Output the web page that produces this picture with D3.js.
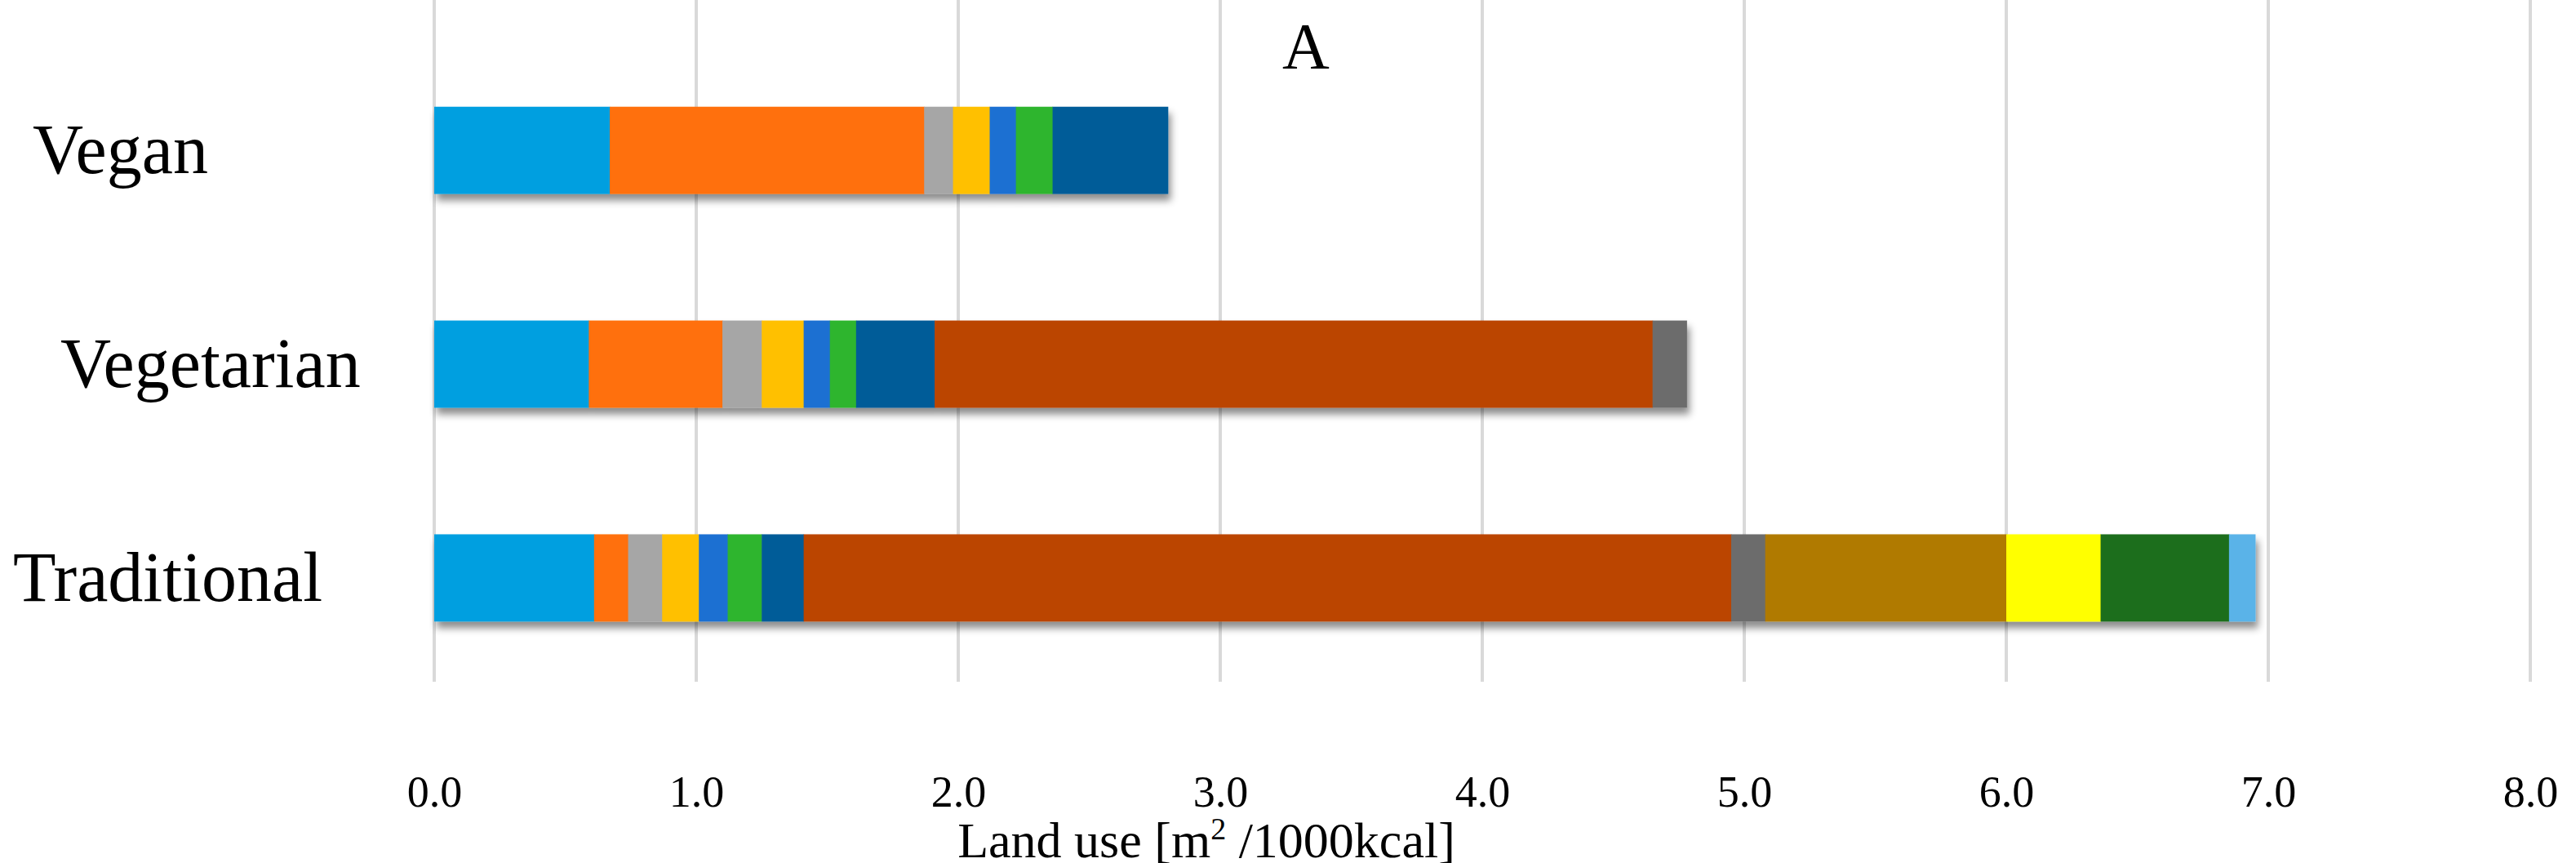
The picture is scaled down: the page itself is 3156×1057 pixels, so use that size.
<!DOCTYPE html>
<html><head><meta charset="utf-8">
<script src="https://cdn.jsdelivr.net/npm/d3@7"></script>
<style>body{margin:0;background:#fff}svg{display:block}</style>
</head><body>
<svg id="c" width="3156" height="1057"></svg>
<script>
const categories = ["Vegan", "Vegetarian", "Traditional"];
const seriesColors = ["#029fe0","#ff6f0a","#a6a6a6","#ffc000","#1f6fd2","#2fb52f","#005b98","#bb4402","#6c6c6c","#b07a02","#ffff00","#1b6e1b","#5ab3e8"];
const veganValues = [0.67, 1.20, 0.11, 0.14, 0.10, 0.14, 0.44];
const vegetarianValues = [0.59, 0.51, 0.15, 0.16, 0.10, 0.10, 0.30, 2.74, 0.13];
const traditionalValues = [0.61, 0.13, 0.13, 0.14, 0.11, 0.13, 0.16, 3.54, 0.13, 0.92, 0.36, 0.49, 0.10];
const tickValues = [0,1,2,3,4,5,6,7,8];
const allValues = [veganValues, vegetarianValues, traditionalValues];

const svg = d3.select("#c");
const x = d3.scaleLinear().domain([0,8]).range([532,3100]);
const y = d3.scaleBand().domain(categories).range([26,866]).paddingInner(0.592).paddingOuter(0.4);

const defs = svg.append("defs");
const f = defs.append("filter").attr("id","sh").attr("x","-5%").attr("y","-20%").attr("width","110%").attr("height","160%");
f.append("feDropShadow").attr("dx",3).attr("dy",8).attr("stdDeviation",5).attr("flood-color","#000").attr("flood-opacity",0.45);

svg.append("g").selectAll("line").data(tickValues).join("line")
  .attr("x1",d=>x(d)).attr("x2",d=>x(d)).attr("y1",0).attr("y2",835)
  .attr("stroke","#d9d9d9").attr("stroke-width",4);

categories.forEach((c,i)=>{
  let acc=0;
  const segs = allValues[i].map((v,j)=>{const s={x0:acc,x1:acc+v,color:seriesColors[j]};acc+=v;return s;});
  const g = svg.append("g").attr("filter","url(#sh)");
  g.selectAll("rect").data(segs).join("rect")
    .attr("x",d=>x(d.x0)).attr("width",d=>x(d.x1)-x(d.x0)+0.5)
    .attr("y",y(c)).attr("height",y.bandwidth()).attr("fill",d=>d.color);
});

const labelX = {"Vegan":40,"Vegetarian":74,"Traditional":16};
svg.append("g").selectAll("text").data(categories).join("text")
  .attr("x",d=>labelX[d]).attr("y",d=>y(d)+y.bandwidth()/2+28)
  .attr("font-family","Liberation Serif").attr("font-size",86).attr("fill","#000")
  .text(d=>d);

const ax = svg.append("g").attr("transform","translate(0,985)")
  .call(d3.axisBottom(x).tickValues(tickValues).tickFormat(d3.format(".1f")).tickSize(0));
ax.select(".domain").remove();
ax.selectAll("text").attr("font-family","Liberation Serif").attr("font-size",54).attr("fill","#000").attr("dy",0);

const t = svg.append("text").attr("x",1478).attr("y",1050).attr("text-anchor","middle")
  .attr("font-family","Liberation Serif").attr("font-size",62).attr("fill","#000");
t.append("tspan").text("Land use [m");
t.append("tspan").attr("font-size",38).attr("dy",-22).text("2");
t.append("tspan").attr("dy",22).text(" /1000kcal]");

svg.append("text").attr("x",1600).attr("y",84).attr("text-anchor","middle")
  .attr("font-family","Liberation Serif").attr("font-size",80).attr("fill","#000").text("A");
</script>
</body></html>
